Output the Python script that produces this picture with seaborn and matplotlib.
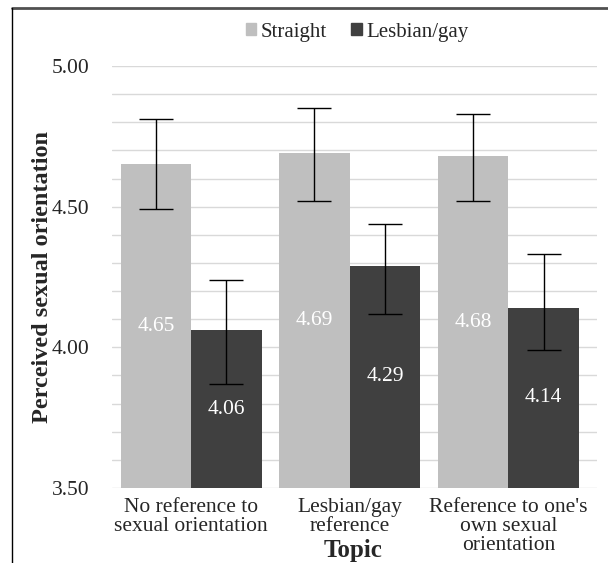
import matplotlib
matplotlib.use("Agg")
import matplotlib.pyplot as plt
import matplotlib.ticker as mticker
import matplotlib.lines as mlines
import pandas as pd
import seaborn as sns

# data
topics = ["No reference to\nsexual orientation", "Lesbian/gay\nreference", "Reference to one's\nown sexual\norientation"]
groups = ["Straight", "Lesbian/gay"]
straight_mean = [4.65, 4.69, 4.68]
gay_mean = [4.06, 4.29, 4.14]
straight_low = [4.49, 4.52, 4.52]
straight_high = [4.81, 4.85, 4.83]
gay_low = [3.87, 4.12, 3.99]
gay_high = [4.24, 4.44, 4.33]

sns.set_style("white")
plt.rcParams["font.family"] = ["Liberation Serif", "DejaVu Serif"]

df = pd.DataFrame({
    "topic": topics * 2,
    "group": [groups[0]] * 3 + [groups[1]] * 3,
    "mean": straight_mean + gay_mean,
})

fig = plt.figure(figsize=(6.08, 5.63), dpi=100)
ax = fig.add_axes([0.184, 0.1332, 0.798, 0.7496])

sns.barplot(data=df, x="topic", y="mean", hue="group", hue_order=groups,
            palette=["#BFBFBF", "#404040"], width=0.89, errorbar=None,
            saturation=1, linewidth=0, ax=ax, zorder=2)

ax.set_ylim(3.5, 5.0)
ax.yaxis.set_major_locator(mticker.MultipleLocator(0.5))
ax.yaxis.set_minor_locator(mticker.MultipleLocator(0.1))
ax.yaxis.set_major_formatter(mticker.FormatStrFormatter("%.2f"))
ax.grid(axis="y", which="both", color="#D9D9D9", linewidth=1.0, zorder=0)
ax.set_axisbelow(True)
for s in ax.spines.values():
    s.set_visible(False)
ax.tick_params(axis="both", which="both", length=0, labelsize=15.5)
ax.tick_params(axis="y", pad=16)
ax.tick_params(axis="x", pad=7)
for t in ax.get_xticklabels():
    t.set_linespacing(1.02)
    t.set_verticalalignment("top")

lows = [straight_low, gay_low]
highs = [straight_high, gay_high]
for cont, lo, hi, means in zip(ax.containers, lows, highs, [straight_mean, gay_mean]):
    xs = [b.get_x() + b.get_width() / 2 for b in cont]
    err = [[m - l for m, l in zip(means, lo)], [h - m for m, h in zip(means, hi)]]
    ax.errorbar(xs, means, yerr=err, fmt="none", ecolor="black",
                elinewidth=1.0, capsize=12.5, capthick=1.0, zorder=3)
    ax.bar_label(cont, labels=[f"{m:.2f}" for m in means], label_type="center",
                 color="white", fontsize=15.5, zorder=4)

ax.set_xlim(-0.5, 2.56)
ax.set_xlabel("")
ax.set_ylabel("Perceived sexual orientation", fontsize=17.5, fontweight="bold", labelpad=-1)
fig.text(0.581, 0.022, "Topic", ha="center", va="center", fontsize=18, fontweight="bold")

ax.legend_.remove()
handles = [plt.Rectangle((0, 0), 1, 1, color=c) for c in ["#BFBFBF", "#404040"]]
fig.legend(handles, groups, loc="center", bbox_to_anchor=(0.587, 0.943), ncol=2,
           frameon=False, fontsize=15, handlelength=0.5, handleheight=0.5,
           handletextpad=0.2, columnspacing=1.2)

# outer frame (top and left edges visible in the reference)
fig.add_artist(mlines.Line2D([12 / 608, 1], [1 - 8 / 563, 1 - 8 / 563],
                             transform=fig.transFigure, color="#505050", linewidth=2))
fig.add_artist(mlines.Line2D([12 / 608, 12 / 608], [0, 1 - 8 / 563],
                             transform=fig.transFigure, color="black", linewidth=1))

fig.savefig("out.png", dpi=100)
